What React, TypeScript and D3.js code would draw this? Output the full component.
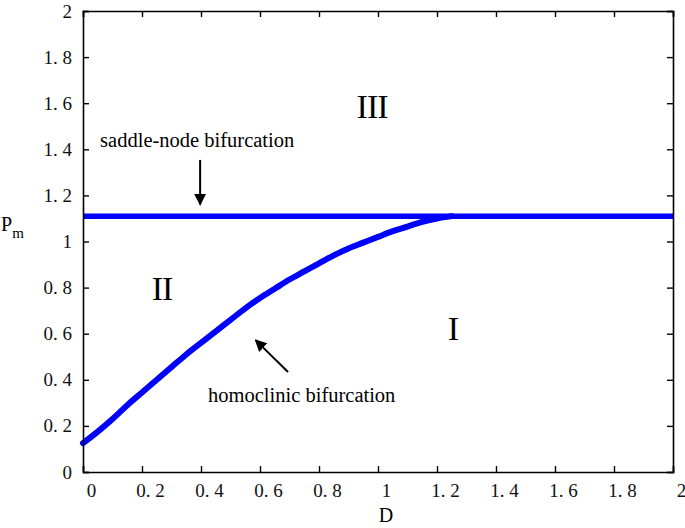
import React, { useEffect, useRef } from 'react';
import * as d3 from 'd3';

// homoclinic bifurcation curve
const dValues = [0, 0.05, 0.1, 0.15, 0.2, 0.25, 0.3, 0.35, 0.4, 0.45, 0.5, 0.55, 0.6, 0.65, 0.7, 0.75, 0.8, 0.85, 0.9, 0.95, 1.0, 1.05, 1.1, 1.15, 1.2, 1.25];
const pmValues = [0.125, 0.175, 0.23, 0.29, 0.345, 0.4, 0.455, 0.51, 0.56, 0.61, 0.66, 0.71, 0.755, 0.795, 0.835, 0.87, 0.905, 0.94, 0.97, 0.995, 1.02, 1.045, 1.065, 1.085, 1.1, 1.11];

// saddle-node bifurcation level
const saddleLevel = 1.11;

const xTicks = [0, 0.2, 0.4, 0.6, 0.8, 1, 1.2, 1.4, 1.6, 1.8, 2];
const yTicks = [0, 0.2, 0.4, 0.6, 0.8, 1, 1.2, 1.4, 1.6, 1.8, 2];

const regionLabels = [
  { text: 'III', d: 0.98, p: 1.536 },
  { text: 'II', d: 0.268, p: 0.745 },
  { text: 'I', d: 1.254, p: 0.573 },
];

const W = 685;
const H = 528;
const margin = { top: 11, right: 12, bottom: 56, left: 83 };
const FONT = '"Liberation Serif", "Times New Roman", serif';

const fmt = (v: number) => (Number.isInteger(v) ? String(v) : v.toFixed(1).replace('.', '. '));

const App = () => {
  const ref = useRef<SVGSVGElement | null>(null);

  useEffect(() => {
    const svg = d3.select(ref.current);
    svg.selectAll('*').remove();

    const x = d3.scaleLinear().domain([0, 2]).range([margin.left, W - margin.right]);
    const y = d3.scaleLinear().domain([0, 2]).range([H - margin.bottom, margin.top]);

    const defs = svg.append('defs');
    defs
      .append('marker')
      .attr('id', 'head')
      .attr('viewBox', '0 0 10 10')
      .attr('refX', 9)
      .attr('refY', 5)
      .attr('markerWidth', 6)
      .attr('markerHeight', 6)
      .attr('markerUnits', 'strokeWidth')
      .attr('orient', 'auto')
      .append('path')
      .attr('d', 'M0,0 L10,5 L0,10 z')
      .attr('fill', '#000');

    // data lines
    svg
      .append('line')
      .attr('x1', x(0))
      .attr('x2', x(2))
      .attr('y1', y(saddleLevel))
      .attr('y2', y(saddleLevel))
      .attr('stroke', '#0000ff')
      .attr('stroke-width', 5.5);

    const line = d3
      .line<number>()
      .x((_, i) => x(dValues[i]))
      .y((v) => y(v))
      .curve(d3.curveMonotoneX);

    svg
      .append('path')
      .attr('d', line(pmValues))
      .attr('fill', 'none')
      .attr('stroke', '#0000ff')
      .attr('stroke-width', 6)
      .attr('stroke-linejoin', 'round')
      .attr('stroke-linecap', 'round');

    // axes with inward ticks on all sides
    const tickLen = 6;
    const bottom = svg
      .append('g')
      .attr('transform', `translate(0,${y(0)})`)
      .call(d3.axisBottom(x).tickValues(xTicks).tickSize(-tickLen).tickPadding(12).tickFormat((d) => fmt(+d)));
    bottom.selectAll('text').attr('dx', 8);
    const top = svg
      .append('g')
      .attr('transform', `translate(0,${y(2)})`)
      .call(d3.axisTop(x).tickValues(xTicks).tickSize(-tickLen).tickFormat(() => ''));
    const left = svg
      .append('g')
      .attr('transform', `translate(${x(0)},0)`)
      .call(d3.axisLeft(y).tickValues(yTicks).tickSize(-tickLen).tickPadding(11).tickFormat((d) => fmt(+d)));
    const right = svg
      .append('g')
      .attr('transform', `translate(${x(2)},0)`)
      .call(d3.axisRight(y).tickValues(yTicks).tickSize(-tickLen).tickFormat(() => ''));

    [bottom, top, left, right].forEach((g) => {
      g.attr('font-family', FONT);
      g.selectAll('.domain').attr('stroke', '#000').attr('stroke-width', 1.6);
      g.selectAll('.tick line').attr('stroke', '#000').attr('stroke-width', 1.4);
      g.selectAll('text').attr('font-family', FONT).attr('font-size', 19).attr('fill', '#111');
    });

    // axis titles
    svg
      .append('text')
      .attr('x', (x(0) + x(2)) / 2 + 8)
      .attr('y', H - 6)
      .attr('text-anchor', 'middle')
      .attr('font-family', FONT)
      .attr('font-size', 20)
      .text('D');

    const yl = svg
      .append('text')
      .attr('x', 1)
      .attr('y', y(1) - 11)
      .attr('font-family', FONT)
      .attr('font-size', 20);
    yl.append('tspan').text('P');
    yl.append('tspan').attr('dy', 7).attr('font-size', 15).text('m');

    // region labels
    svg
      .selectAll('text.region')
      .data(regionLabels)
      .join('text')
      .attr('class', 'region')
      .attr('x', (d) => x(d.d))
      .attr('y', (d) => y(d.p))
      .attr('text-anchor', 'middle')
      .attr('font-family', FONT)
      .attr('font-size', 34)
      .attr('letter-spacing', -1)
      .text((d) => d.text);

    // annotations
    svg
      .append('text')
      .attr('x', x(0.058))
      .attr('y', y(1.41))
      .attr('font-family', FONT)
      .attr('font-size', 20.5)
      .text('saddle-node bifurcation');
    svg
      .append('line')
      .attr('x1', x(0.397))
      .attr('x2', x(0.397))
      .attr('y1', y(1.354))
      .attr('y2', y(1.16))
      .attr('stroke', '#000')
      .attr('stroke-width', 2)
      .attr('marker-end', 'url(#head)');

    svg
      .append('text')
      .attr('x', x(0.424))
      .attr('y', y(0.304))
      .attr('font-family', FONT)
      .attr('font-size', 20.5)
      .text('homoclinic bifurcation');
    svg
      .append('line')
      .attr('x1', x(0.695))
      .attr('y1', y(0.434))
      .attr('x2', x(0.585))
      .attr('y2', y(0.572))
      .attr('stroke', '#000')
      .attr('stroke-width', 2)
      .attr('marker-end', 'url(#head)');
  }, []);

  return (
    <svg
      ref={ref}
      width={W}
      height={H}
      style={{ position: 'absolute', left: 0, top: 0, background: '#fff' }}
    />
  );
};

export default App;
